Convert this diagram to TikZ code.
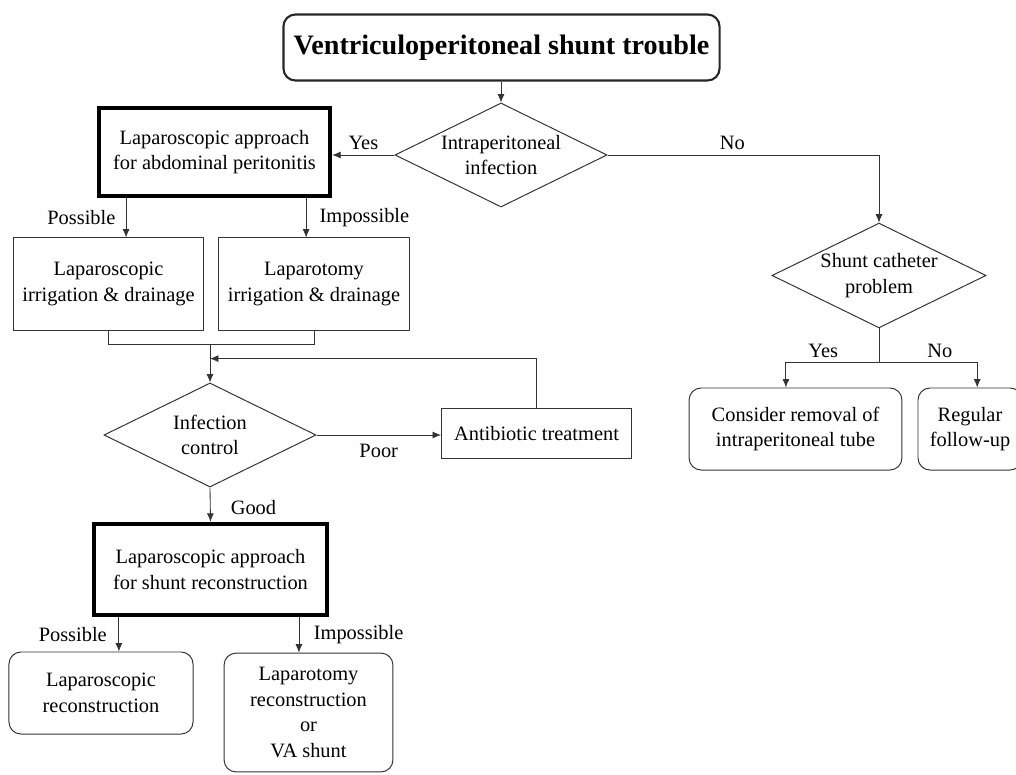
\documentclass[tikz,border=0pt]{standalone}
\usepackage{fontspec}
\setmainfont{Liberation Serif}
\usetikzlibrary{arrows.meta,shapes.geometric,positioning}

\begin{document}
\begin{tikzpicture}[
    x=0.025cm, y=-0.025cm,
    >={Latex[length=6pt,width=5pt]},
    every node/.style={font=\fontsize{14.5}{18.3}\selectfont},
    conn/.style={draw=black!80, line width=0.6pt},
    stdbox/.style={
        draw=black!80,
        line width=0.7pt,
        align=center,
        inner sep=2pt
    },
    heavy/.style={stdbox, draw=black, line width=3pt},
    soft/.style={stdbox, rounded corners=0.3cm},
    cond/.style={stdbox, diamond, aspect=2.04, inner sep=0pt}
]
\useasboundingbox (0,0) rectangle (1016,774);

% top
\node[soft, draw=black!85, line width=1.5pt, minimum width=10.9cm, minimum height=1.65cm,
    font=\fontsize{20}{24}\selectfont\bfseries] (title) at (501.5,47.5) {Ventriculoperitoneal shunt trouble};
\node[cond, minimum width=5.3cm, minimum height=2.6cm] (ip) at (501,155) {Intraperitoneal\\infection};

% infection branch
\node[heavy, minimum width=5.78cm, minimum height=2.2cm] (abd) at (214.5,152) {Laparoscopic approach\\for abdominal peritonitis};
\node[stdbox, minimum width=4.75cm, minimum height=2.3cm] (lapirr) at (108.5,284) {Laparoscopic\\irrigation \& drainage};
\node[stdbox, minimum width=4.75cm, minimum height=2.3cm] (lapt) at (314,284) {Laparotomy\\irrigation \& drainage};
\node[cond, minimum width=5.3cm, minimum height=2.6cm] (ic) at (210,435) {Infection\\control};
\node[stdbox, minimum width=4.75cm, minimum height=1.27cm] (anti) at (536.5,433.5) {Antibiotic treatment};
\node[heavy, minimum width=5.83cm, minimum height=2.28cm] (recon) at (210.5,569.5) {Laparoscopic approach\\for shunt reconstruction};
\node[soft, minimum width=4.6cm, minimum height=2.05cm] (lrec) at (101,693) {Laparoscopic\\reconstruction};
\node[soft, minimum width=4.22cm, minimum height=2.97cm] (orec) at (308.5,712.5) {Laparotomy\\reconstruction\\or\\VA shunt};

% no infection branch
\node[cond, minimum width=5.35cm, minimum height=2.62cm] (scp) at (879,275.5) {Shunt catheter\\problem};
\node[soft, minimum width=5.32cm, minimum height=2.05cm] (rmv) at (795.5,429) {Consider removal of\\intraperitoneal tube};
\node[soft, minimum width=2.6cm, minimum height=2.05cm] (fol) at (970,429) {Regular\\follow-up};

\draw[conn, ->] (title.south -| ip.north) -- (ip.north);
\draw[conn, ->] (ip.west) -- node[above] {Yes} (ip.west -| abd.east);
\draw[conn, ->] (ip.east) -| node[pos=0.23, above] {No} (scp.north);

\coordinate (a1) at ([xshift=-2.21cm]abd.south);
\coordinate (a2) at ([xshift=2.29cm]abd.south);
\draw[conn, ->] (a1) -- node[left, xshift=-4pt] {Possible} (a1 |- lapirr.north);
\draw[conn, ->] (a2) -- node[right, xshift=6pt] {Impossible} (a2 |- lapt.north);

\draw[conn] (lapirr.south) -- ++(0,14) coordinate (b1) -- (b1 -| lapt.south) -- (lapt.south);
\draw[conn, ->] (b1 -| ic.north) -- (ic.north);
\draw[conn, ->] (ic.east) -- node[below=3pt] {Poor} (ic.east -| anti.west);
\draw[conn, ->] (anti.north) -- ++(0,-49) coordinate (fb) -- (fb -| ic.north);
\draw[conn, ->] (ic.south) -- node[right, xshift=11pt, yshift=-2pt] {Good} (recon.north);

\coordinate (r1) at ([xshift=-2.29cm]recon.south);
\coordinate (r2) at ([xshift=2.21cm]recon.south);
\draw[conn, ->] (r1) -- node[left, xshift=-5pt] {Possible} (r1 |- lrec.north);
\draw[conn, ->] (r2) -- node[right, xshift=7pt] {Impossible} (r2 |- orec.north);

\draw[conn] (scp.south) -- ++(0,34) coordinate (sj);
\draw[conn, ->] (sj) -| node[pos=0.3, above] {Yes} ([xshift=-0.24cm]rmv.north);
\draw[conn, ->] (sj) -| node[pos=0.31, above] {No} ([xshift=0.18cm]fol.north);

\end{tikzpicture}
\end{document}
